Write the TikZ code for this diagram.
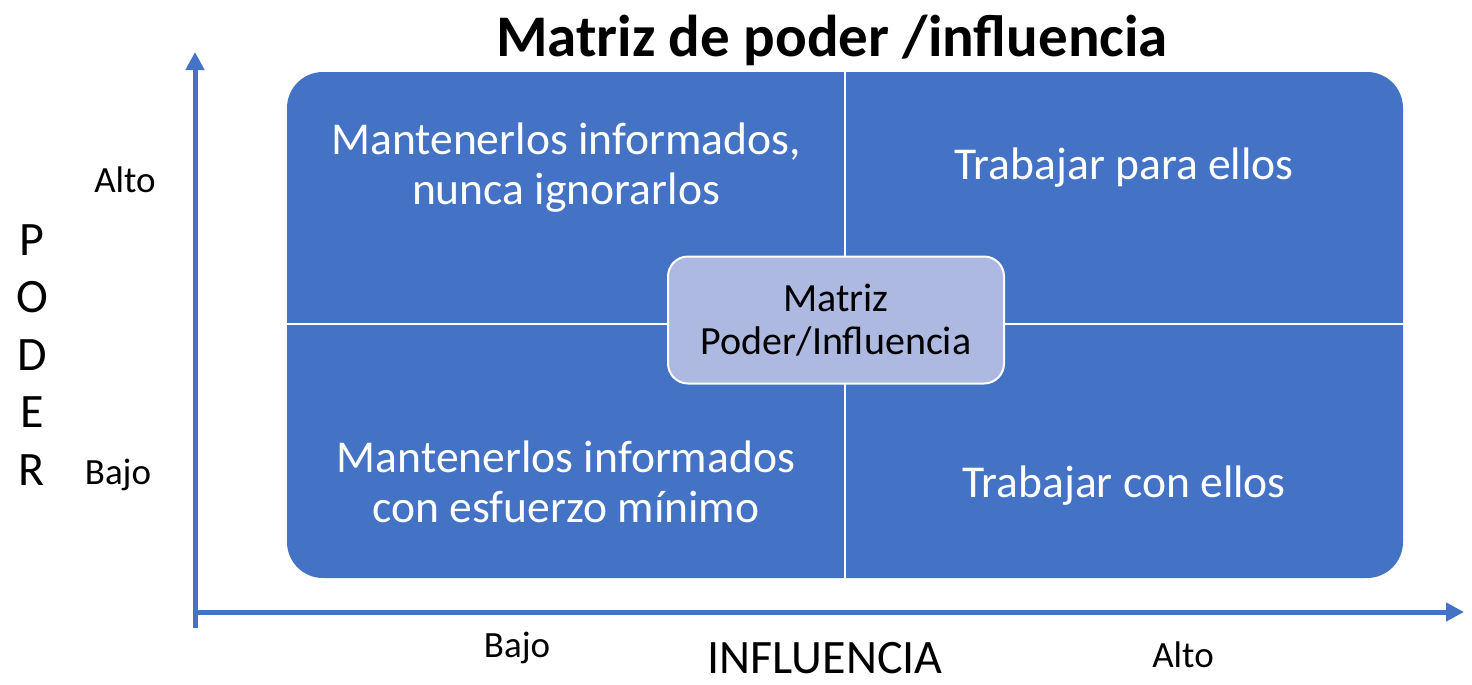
\documentclass[tikz,border=0pt]{standalone}
\usepackage{fontspec}
\setmainfont{Carlito}
\usetikzlibrary{arrows.meta}
\definecolor{accent}{HTML}{4472C4}
\definecolor{centerfill}{HTML}{ADB9E0}
\begin{document}
\begin{tikzpicture}[x=0.5pt,y=-0.5pt,
  quadtext/.style={text=white,font=\fontsize{22.8}{25}\selectfont,align=center},
  lbl/.style={text=black,font=\fontsize{18.5}{20}\selectfont},
  axis/.style={draw=accent,line width=2.5pt,-{Triangle[length=9pt,width=9pt]}},
  divider/.style={draw=white,line width=1pt}]
\useasboundingbox (0,0) rectangle (1472,685);
% matrix
\node[fill=accent,rounded corners=18pt,minimum width=558pt,minimum height=253pt,inner sep=0pt] (mat) at (845,325) {};
\coordinate (vt) at (845,72);
\coordinate (vb) at (845,578);
\coordinate (hl) at (287,324);
\coordinate (hr) at (1403,324);
\draw[divider] (vt) -- (vb);
\draw[divider] (hl) -- (hr);
\node[fill=centerfill,draw=white,line width=1pt,rounded corners=10pt,minimum width=168pt,minimum height=63.5pt,align=center,font=\fontsize{20}{21.5}\selectfont] (center) at (836,320) {Matriz\\Poder/Influencia};
% quadrant texts
\node[quadtext] (q1) at (566,168) {Mantenerlos informados,\\nunca ignorarlos};
\node[quadtext] (q2) at (1124,168) {Trabajar para ellos};
\node[quadtext] (q3) at (566,482) {Mantenerlos informados\\con esfuerzo mínimo};
\node[quadtext] (q4) at (1124,486) {Trabajar con ellos};
% axes
\coordinate (o1) at (195,628);
\coordinate (ytip) at (195,52);
\coordinate (o2) at (193,612);
\coordinate (xtip) at (1464,612);
\draw[axis] (o1) -- (ytip);
\draw[axis] (o2) -- (xtip);
% title
\node[font=\fontsize{29.5}{34}\selectfont\bfseries] (title) at (832,40) {Matriz de poder /influencia};
% axis labels
\node[lbl] (yalto) at (125,180) {Alto};
\node[lbl] (ybajo) at (118,475) {Bajo};
\node[lbl] (xbajo) at (517,648) {Bajo};
\node[lbl] (xalto) at (1183,655) {Alto};
\node[font=\fontsize{24}{26}\selectfont] (xname) at (825,658) {INFLUENCIA};
\node[font=\fontsize{24}{28.75}\selectfont,align=center] (yname) at (32,355) {P\\O\\D\\E\\R};
\end{tikzpicture}
\end{document}
